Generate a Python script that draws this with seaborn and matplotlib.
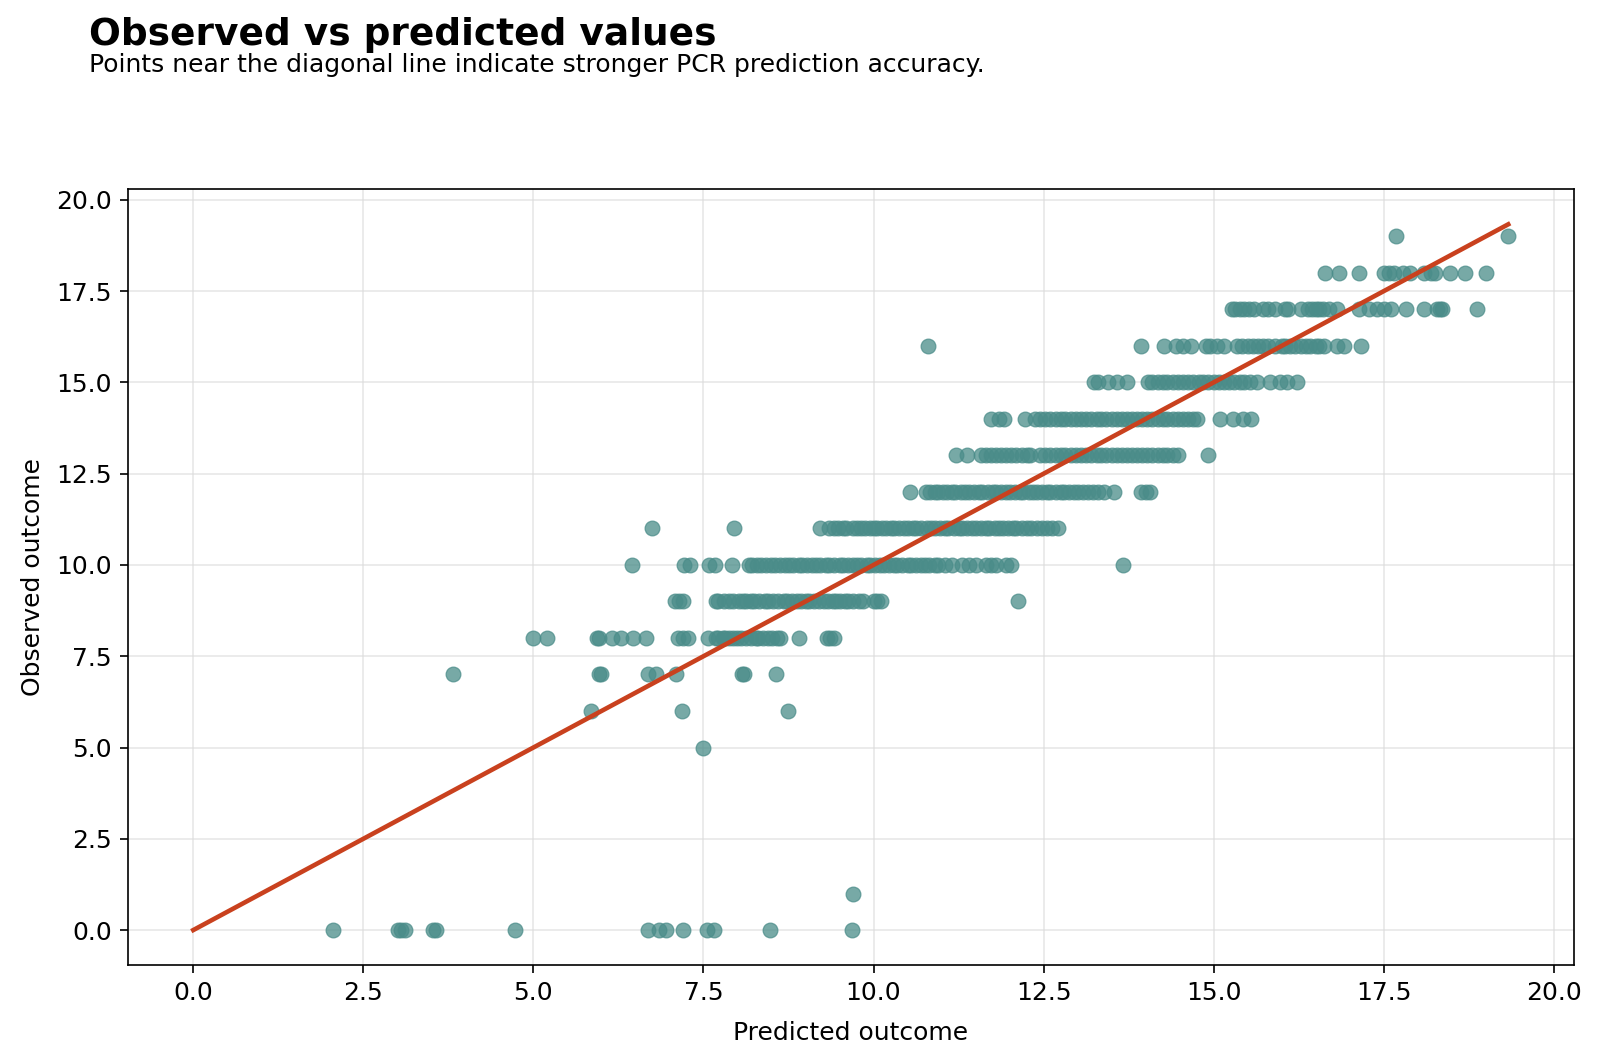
import numpy as np
import pandas as pd
import matplotlib
matplotlib.use("Agg")
import matplotlib.pyplot as plt
import seaborn as sns

# predicted values, grouped by the observed outcome they belong to
pred_at_0 = [2.06, 3.01, 3.06, 3.11, 3.53, 3.57, 4.73, 6.68, 6.85, 6.95, 7.20, 7.55, 7.66, 8.48, 9.68]
pred_at_1 = [9.70]
pred_at_5 = [7.50]
pred_at_6 = [5.85, 7.18, 8.74]
pred_at_7 = [3.82, 5.97, 6.00, 6.68, 6.80, 7.10, 8.07, 8.10, 8.56]
pred_at_8 = [4.99, 5.20, 5.93, 5.96, 6.16, 6.29, 6.46, 6.66, 7.13, 7.20, 7.27, 7.56, 7.69, 7.72,
             7.78, 7.82, 7.88, 7.93, 8.00, 8.05, 8.12, 8.20, 8.27, 8.30, 8.38, 8.45, 8.51, 8.58,
             8.62, 8.90, 9.32, 9.36, 9.42]
pred_at_9 = [7.08, 7.14, 7.20, 7.69, 7.72, 7.80, 7.88, 7.93, 8.02, 8.08, 8.12, 8.20, 8.25, 8.32,
             8.40, 8.45, 8.52, 8.60, 8.68, 8.73, 8.80, 8.88, 8.93, 9.00, 9.05, 9.12, 9.20, 9.27,
             9.33, 9.40, 9.45, 9.50, 9.58, 9.63, 9.70, 9.78, 9.85, 10.00, 10.05, 10.11, 12.12]
pred_at_10 = [6.45, 7.22, 7.30, 7.58, 7.67, 7.92, 8.17, 8.22, 8.28, 8.35, 8.42, 8.50, 8.55, 8.62,
              8.70, 8.75, 8.82, 8.90, 8.95, 9.02, 9.10, 9.15, 9.22, 9.30, 9.35, 9.42, 9.50, 9.55,
              9.62, 9.70, 9.75, 9.82, 9.90, 9.95, 10.02, 10.10, 10.15, 10.22, 10.30, 10.35, 10.42,
              10.50, 10.55, 10.62, 10.70, 10.75, 10.82, 10.90, 10.95, 11.05, 11.15, 11.30, 11.40,
              11.50, 11.65, 11.72, 11.80, 11.95, 12.02, 13.67]
pred_at_11 = [6.74, 7.95, 9.22, 9.35, 9.42, 9.48, 9.55, 9.60, 9.70, 9.75, 9.82, 9.88, 9.95, 10.00,
              10.05, 10.12, 10.18, 10.25, 10.30, 10.38, 10.45, 10.50, 10.58, 10.62, 10.70, 10.78,
              10.85, 10.90, 10.98, 11.05, 11.10, 11.18, 11.25, 11.30, 11.38, 11.45, 11.50, 11.58,
              11.65, 11.70, 11.78, 11.85, 11.90, 11.98, 12.05, 12.10, 12.18, 12.25, 12.32, 12.40,
              12.48, 12.55, 12.62, 12.71]
pred_at_12 = [10.53, 10.77, 10.83, 10.90, 10.95, 11.02, 11.08, 11.15, 11.20, 11.28, 11.35, 11.40,
              11.48, 11.55, 11.60, 11.68, 11.75, 11.80, 11.88, 11.95, 12.00, 12.08, 12.15, 12.20,
              12.28, 12.35, 12.40, 12.48, 12.55, 12.60, 12.68, 12.75, 12.80, 12.88, 12.95, 13.00,
              13.08, 13.15, 13.22, 13.30, 13.39, 13.54, 13.93, 14.00, 14.07]
pred_at_13 = [11.21, 11.38, 11.58, 11.65, 11.72, 11.80, 11.88, 11.95, 12.02, 12.10, 12.18, 12.25,
              12.30, 12.45, 12.52, 12.60, 12.68, 12.75, 12.82, 12.90, 12.98, 13.05, 13.12, 13.20,
              13.28, 13.35, 13.42, 13.50, 13.58, 13.65, 13.72, 13.80, 13.88, 13.95, 14.02, 14.10,
              14.18, 14.25, 14.32, 14.40, 14.47, 14.91]
pred_at_14 = [11.73, 11.85, 11.92, 12.22, 12.37, 12.45, 12.52, 12.60, 12.68, 12.75, 12.82, 12.90,
              12.98, 13.05, 13.12, 13.20, 13.28, 13.35, 13.42, 13.50, 13.58, 13.65, 13.72, 13.80,
              13.88, 13.95, 14.02, 14.10, 14.18, 14.25, 14.32, 14.40, 14.48, 14.55, 14.62, 14.70,
              14.76, 15.10, 15.28, 15.43, 15.55]
pred_at_15 = [13.24, 13.30, 13.44, 13.58, 13.73, 14.03, 14.10, 14.18, 14.25, 14.32, 14.40, 14.48,
              14.55, 14.62, 14.70, 14.78, 14.85, 14.92, 15.00, 15.08, 15.15, 15.22, 15.30, 15.38,
              15.45, 15.54, 15.64, 15.83, 15.98, 16.08, 16.22]
pred_at_16 = [10.80, 13.93, 14.27, 14.45, 14.55, 14.66, 14.88, 14.95, 15.05, 15.15, 15.35, 15.42,
              15.50, 15.58, 15.65, 15.72, 15.80, 15.90, 16.00, 16.05, 16.12, 16.20, 16.28, 16.35,
              16.42, 16.50, 16.55, 16.62, 16.81, 16.91, 17.16]
pred_at_17 = [15.27, 15.32, 15.38, 15.45, 15.52, 15.60, 15.72, 15.80, 15.90, 16.05, 16.10, 16.28,
              16.38, 16.45, 16.50, 16.55, 16.60, 16.70, 16.81, 17.13, 17.28, 17.40, 17.50, 17.60,
              17.82, 18.09, 18.28, 18.32, 18.35, 18.87]
pred_at_18 = [16.64, 16.84, 17.13, 17.50, 17.58, 17.65, 17.79, 17.89, 18.09, 18.19, 18.26, 18.48,
              18.70, 19.00]
pred_at_19 = [17.68, 19.33]

observed_levels = [0, 1, 5, 6, 7, 8, 9, 10, 11, 12, 13, 14, 15, 16, 17, 18, 19]
pred_groups = [pred_at_0, pred_at_1, pred_at_5, pred_at_6, pred_at_7, pred_at_8, pred_at_9,
               pred_at_10, pred_at_11, pred_at_12, pred_at_13, pred_at_14, pred_at_15,
               pred_at_16, pred_at_17, pred_at_18, pred_at_19]

rows = []
for obs, preds in zip(observed_levels, pred_groups):
    for p in preds:
        rows.append((p, obs))
df = pd.DataFrame(rows, columns=["predicted", "observed"])

point_color = "#4A8C89"
line_color = "#C9411E"

fig = plt.figure(figsize=(10.667, 7.08), dpi=150)
ax = fig.add_axes([0.0797, 0.091, 0.904, 0.731])

sns.scatterplot(data=df, x="predicted", y="observed", ax=ax, color=point_color,
                alpha=0.75, s=50, edgecolor=point_color, linewidth=0.6, zorder=3)

lo = min(df["predicted"].min(), df["observed"].min())
hi = max(df["predicted"].max(), df["observed"].max())
ax.plot([lo, hi], [lo, hi], color=line_color, linewidth=2.2, zorder=4)

ax.grid(True, color="#dddddd", linewidth=0.8, alpha=0.7, zorder=0)
ax.set_axisbelow(True)
ax.set_xlabel("Predicted outcome", fontsize=12, labelpad=7.5)
ax.set_ylabel("Observed outcome", fontsize=12, labelpad=5.5)
ax.tick_params(labelsize=12, length=4)

fig.text(0.0555, 0.984, "Observed vs predicted values", fontsize=18, fontweight="bold", va="top")
fig.text(0.0555, 0.950, "Points near the diagonal line indicate stronger PCR prediction accuracy.",
         fontsize=12, va="top")

fig.savefig("out.png", dpi=150)
